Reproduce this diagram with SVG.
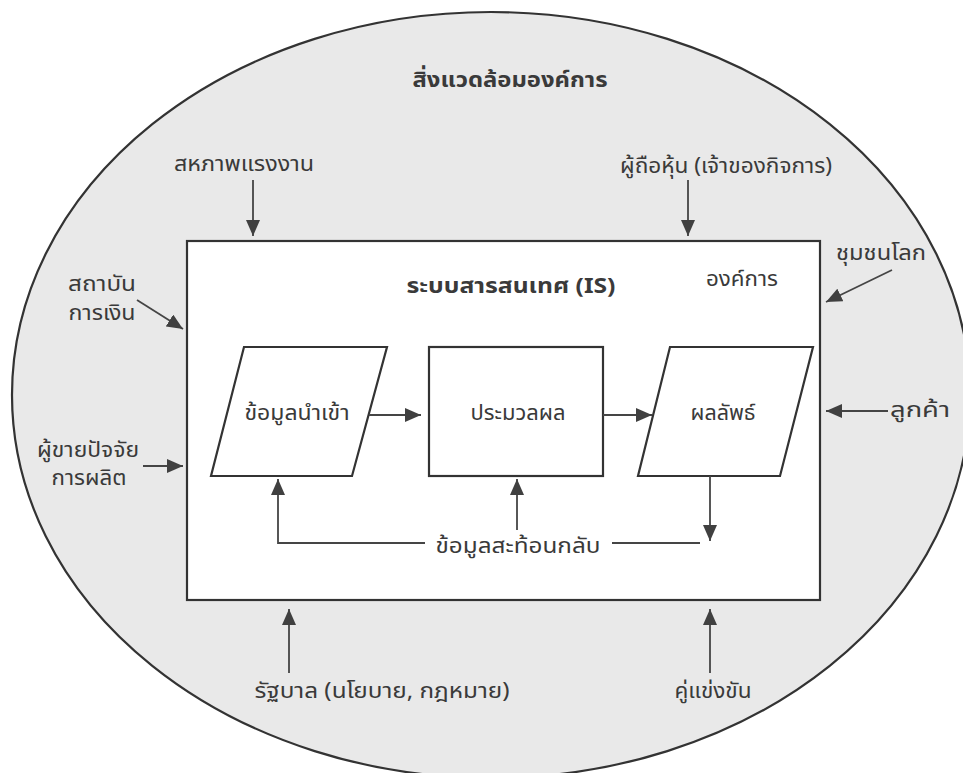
<svg xmlns="http://www.w3.org/2000/svg" width="963" height="773" viewBox="0 0 963 773">
  <defs>
    <marker id="ah" viewBox="0 0 16 14" refX="16" refY="7" markerWidth="16" markerHeight="14" markerUnits="userSpaceOnUse" orient="auto">
      <path d="M0,0 L16,7 L0,14 Z" fill="#404040"/>
    </marker>
  </defs>
  <style>
    .t { font-family: "Noto Sans", "Noto Sans Thai", "DejaVu Sans", sans-serif; font-size: 22px; fill: #3a3a3a; text-anchor: middle; }
    .b { font-weight: bold; }
    .c { stroke: #454545; stroke-width: 1.8; fill: none; marker-end: url(#ah); }
    .ln { stroke: #454545; stroke-width: 1.8; fill: none; }
    .shape { fill: #fff; stroke: #333; stroke-width: 2.2; }
  </style>
  <rect x="0" y="0" width="963" height="773" fill="#fff"/>
  <g id="environment">
    <ellipse cx="491" cy="395" rx="479" ry="383" fill="#e9e9e9" stroke="#333" stroke-width="2.2"/>
    <text class="t b" x="510" y="87" font-size="24" textLength="195" lengthAdjust="spacingAndGlyphs">สิ่งแวดล้อมองค์การ</text>
  </g>
  <g id="organization">
    <rect class="shape" x="187" y="241" width="633" height="359"/>
    <text class="t b" x="511" y="293" textLength="209" lengthAdjust="spacingAndGlyphs">ระบบสารสนเทศ (IS)</text>
    <text class="t" x="742" y="286" textLength="72" lengthAdjust="spacingAndGlyphs">องค์การ</text>
  </g>
  <g id="input">
    <polygon class="shape" points="244,347 387,347 352,476 211,476"/>
    <text class="t" x="297" y="420" textLength="105" lengthAdjust="spacingAndGlyphs">ข้อมูลนำเข้า</text>
  </g>
  <g id="process">
    <rect class="shape" x="429" y="347" width="174" height="129"/>
    <text class="t" x="518" y="420" textLength="95" lengthAdjust="spacingAndGlyphs">ประมวลผล</text>
  </g>
  <g id="output">
    <polygon class="shape" points="670,347 813,347 780,476 638,476"/>
    <text class="t" x="723" y="420" textLength="65" lengthAdjust="spacingAndGlyphs">ผลลัพธ์</text>
  </g>
  <g id="feedback">
    <text class="t" x="518" y="553" textLength="165" lengthAdjust="spacingAndGlyphs">ข้อมูลสะท้อนกลับ</text>
  </g>
  <g id="union"><text class="t" x="244" y="171" textLength="140" lengthAdjust="spacingAndGlyphs">สหภาพแรงงาน</text></g>
  <g id="shareholders"><text class="t" x="726" y="173" textLength="212" lengthAdjust="spacingAndGlyphs">ผู้ถือหุ้น (เจ้าของกิจการ)</text></g>
  <g id="community"><text class="t" x="881" y="260" textLength="90" lengthAdjust="spacingAndGlyphs">ชุมชนโลก</text></g>
  <g id="financial">
    <text class="t" x="102" y="291" textLength="68" lengthAdjust="spacingAndGlyphs">สถาบัน</text>
    <text class="t" x="102" y="320" textLength="67" lengthAdjust="spacingAndGlyphs">การเงิน</text>
  </g>
  <g id="suppliers">
    <text class="t" x="88" y="457" textLength="102" lengthAdjust="spacingAndGlyphs">ผู้ขายปัจจัย</text>
    <text class="t" x="89" y="485" textLength="75" lengthAdjust="spacingAndGlyphs">การผลิต</text>
  </g>
  <g id="customers"><text class="t" x="920" y="417" textLength="60" lengthAdjust="spacingAndGlyphs">ลูกค้า</text></g>
  <g id="government"><text class="t" x="382" y="698" textLength="255" lengthAdjust="spacingAndGlyphs">รัฐบาล (นโยบาย, กฎหมาย)</text></g>
  <g id="competitors"><text class="t" x="713" y="698" textLength="77" lengthAdjust="spacingAndGlyphs">คู่แข่งขัน</text></g>
  <g id="connectors">
    <line class="c" x1="253" y1="180" x2="253" y2="236"/>
    <line class="c" x1="688" y1="180" x2="688" y2="236"/>
    <line class="c" x1="892" y1="270" x2="826" y2="302"/>
    <line class="c" x1="137" y1="300" x2="183" y2="329"/>
    <line class="c" x1="143" y1="466" x2="183" y2="466"/>
    <line class="c" x1="888" y1="411" x2="826" y2="411"/>
    <line class="c" x1="289" y1="673" x2="289" y2="609"/>
    <line class="c" x1="710" y1="673" x2="710" y2="609"/>
    <line class="c" x1="369" y1="415" x2="421" y2="415"/>
    <line class="c" x1="603" y1="415" x2="652" y2="415"/>
    <line class="c" x1="710" y1="476" x2="710" y2="541"/>
    <polyline class="c" points="425,543 278,543 278,479"/>
    <line class="c" x1="517" y1="530" x2="517" y2="479"/>
    <line class="ln" x1="612" y1="543" x2="700" y2="543"/>
  </g>
</svg>
